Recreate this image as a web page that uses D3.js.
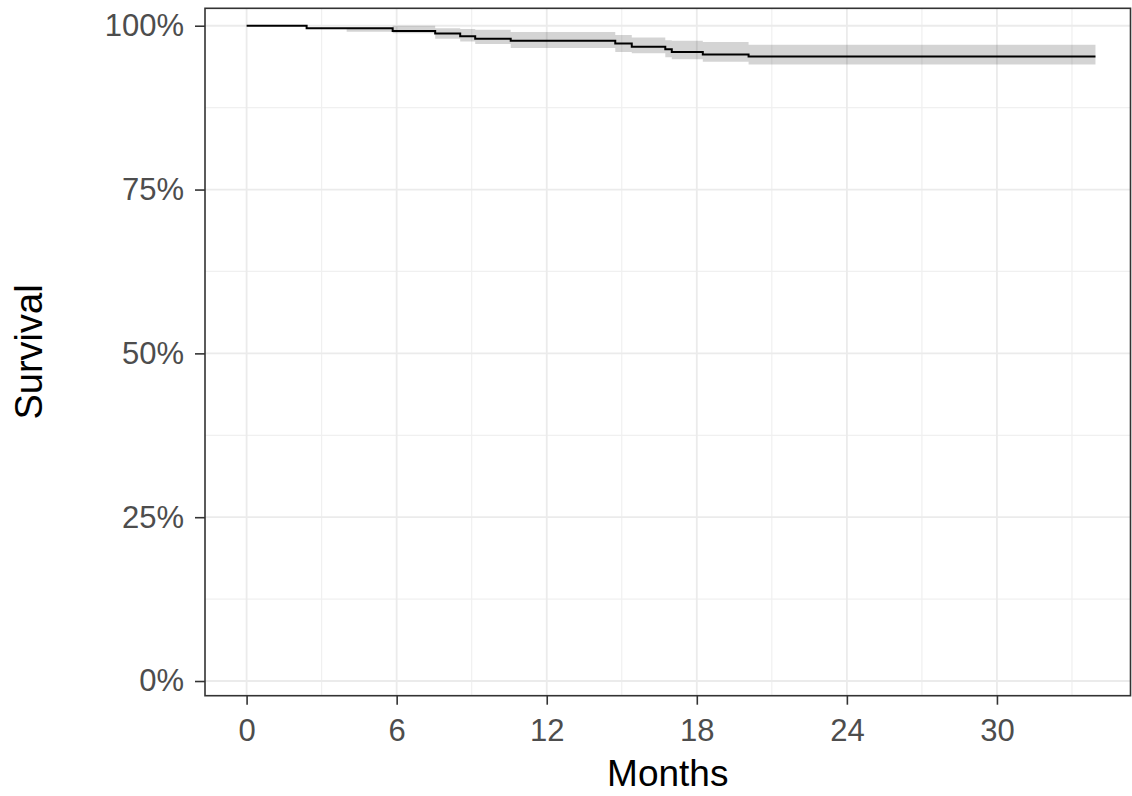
<!DOCTYPE html>
<html>
<head>
<meta charset="utf-8">
<script src="https://cdn.jsdelivr.net/npm/d3@7"></script>
<style>
  html, body { margin: 0; padding: 0; background: #ffffff; }
  svg { display: block; }
  text { font-family: "Liberation Sans", Arial, sans-serif; }
</style>
</head>
<body>
<svg id="chart" width="1132" height="796"></svg>
<script>
// Kaplan-Meier estimate: step times (months) and survival after each step
const eventMonths = [0, 2.4, 5.84, 7.54, 8.54, 9.14, 10.56, 14.74, 15.4, 16.74, 17.0, 18.24, 20.07];
const survival    = [1.000, 0.996, 0.992, 0.988, 0.984, 0.980, 0.977, 0.973, 0.968, 0.964, 0.960, 0.956, 0.953];
const followUpEnd = 33.94;

// 95% confidence band (stepped)
const ciMonths = [0, 2.4, 4.0, 5.84, 7.54, 8.54, 9.14, 10.56, 14.74, 15.4, 16.74, 17.0, 18.24, 20.07];
const ciUpper  = [1.000, 0.996, 0.996, 1.000, 0.996, 0.995, 0.994, 0.9905, 0.986, 0.982, 0.978, 0.977, 0.975, 0.971];
const ciLower  = [1.000, 0.996, 0.991, 0.9885, 0.980, 0.976, 0.972, 0.966, 0.960, 0.958, 0.952, 0.949, 0.945, 0.941];

// Axis ticks
const xMajorTicks = [0, 6, 12, 18, 24, 30];
const xMinorTicks = [3, 9, 15, 21, 27, 33];
const yMajorTicks = [0, 0.25, 0.5, 0.75, 1];
const yMinorTicks = [0.125, 0.375, 0.625, 0.875];
const xTitle = "Months";
const yTitle = "Survival";

const svg = d3.select("#chart");

const panel = { left: 205, right: 1130.5, top: 8.3, bottom: 695.7 };

const x = d3.scaleLinear().domain([-1.663, 35.34]).range([panel.left, panel.right]);
const y = d3.scaleLinear().domain([-0.0224, 1.0266]).range([panel.bottom, panel.top]);

const g = svg.append("g");

// panel background
g.append("rect")
  .attr("x", panel.left).attr("y", panel.top)
  .attr("width", panel.right - panel.left).attr("height", panel.bottom - panel.top)
  .attr("fill", "#ffffff");

// minor grid
g.selectAll("line.xminor").data(xMinorTicks).join("line")
  .attr("x1", d => x(d)).attr("x2", d => x(d))
  .attr("y1", panel.top).attr("y2", panel.bottom)
  .attr("stroke", "#f0f0f0").attr("stroke-width", 1.2);
g.selectAll("line.yminor").data(yMinorTicks).join("line")
  .attr("y1", d => y(d)).attr("y2", d => y(d))
  .attr("x1", panel.left).attr("x2", panel.right)
  .attr("stroke", "#f0f0f0").attr("stroke-width", 1.2);

// major grid
g.selectAll("line.xmajor").data(xMajorTicks).join("line")
  .attr("x1", d => x(d)).attr("x2", d => x(d))
  .attr("y1", panel.top).attr("y2", panel.bottom)
  .attr("stroke", "#ebebeb").attr("stroke-width", 1.8);
g.selectAll("line.ymajor").data(yMajorTicks).join("line")
  .attr("y1", d => y(d)).attr("y2", d => y(d))
  .attr("x1", panel.left).attr("x2", panel.right)
  .attr("stroke", "#ebebeb").attr("stroke-width", 1.8);

// confidence band
const band = ciMonths.map((t, i) => ({ t, hi: ciUpper[i], lo: ciLower[i] }));
band.push({ t: followUpEnd, hi: ciUpper[ciUpper.length - 1], lo: ciLower[ciLower.length - 1] });
g.append("path")
  .datum(band)
  .attr("d", d3.area()
    .curve(d3.curveStepAfter)
    .x(d => x(d.t))
    .y0(d => y(d.lo))
    .y1(d => y(d.hi)))
  .attr("fill", "#000000")
  .attr("fill-opacity", 0.17);

// survival curve
const curve = eventMonths.map((t, i) => ({ t, s: survival[i] }));
curve.push({ t: followUpEnd, s: survival[survival.length - 1] });
g.append("path")
  .datum(curve)
  .attr("d", d3.line().curve(d3.curveStepAfter).x(d => x(d.t)).y(d => y(d.s)))
  .attr("fill", "none")
  .attr("stroke", "#000000")
  .attr("stroke-width", 2);

// panel border
g.append("rect")
  .attr("x", panel.left).attr("y", panel.top)
  .attr("width", panel.right - panel.left).attr("height", panel.bottom - panel.top)
  .attr("fill", "none").attr("stroke", "#333333").attr("stroke-width", 1.6);

// x axis
const xAxis = d3.axisBottom(x)
  .tickValues(xMajorTicks)
  .tickFormat(d3.format("d"))
  .tickSize(9)
  .tickPadding(14);
const xa = svg.append("g").attr("transform", `translate(0,${panel.bottom})`).call(xAxis);
xa.select(".domain").remove();
xa.selectAll(".tick line").attr("stroke", "#333333").attr("stroke-width", 1.6);
xa.selectAll(".tick text").attr("fill", "#4d4d4d").attr("font-size", 31)
  .attr("font-family", "'Liberation Sans', Arial, sans-serif");

// y axis
const yAxis = d3.axisLeft(y)
  .tickValues(yMajorTicks)
  .tickFormat(d3.format(".0%"))
  .tickSize(10)
  .tickPadding(11);
const ya = svg.append("g").attr("transform", `translate(${panel.left},0)`).call(yAxis);
ya.select(".domain").remove();
ya.selectAll(".tick line").attr("stroke", "#333333").attr("stroke-width", 1.6);
ya.selectAll(".tick text").attr("fill", "#4d4d4d").attr("font-size", 31)
  .attr("font-family", "'Liberation Sans', Arial, sans-serif");

// axis titles
svg.append("text")
  .attr("x", (panel.left + panel.right) / 2)
  .attr("y", 786)
  .attr("text-anchor", "middle")
  .attr("font-size", 37)
  .attr("fill", "#000000")
  .text(xTitle);

svg.append("text")
  .attr("transform", `translate(42,${(panel.top + panel.bottom) / 2}) rotate(-90)`)
  .attr("text-anchor", "middle")
  .attr("font-size", 38)
  .attr("fill", "#000000")
  .text(yTitle);
</script>
</body>
</html>
